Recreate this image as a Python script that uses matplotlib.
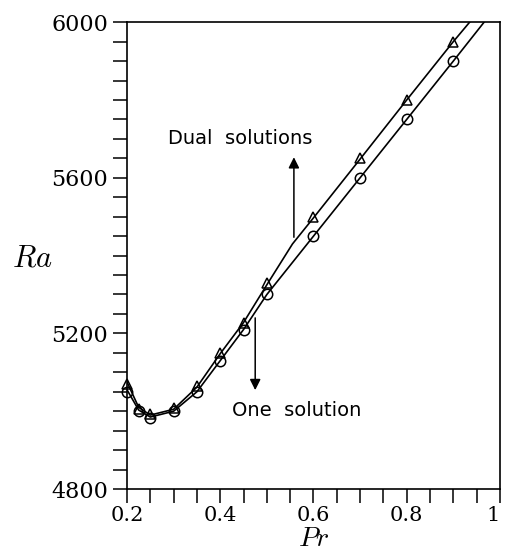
import numpy as np
import matplotlib.pyplot as plt
from matplotlib.ticker import MultipleLocator

plt.rcParams['mathtext.fontset'] = 'cm'

# Pontos calculados
pr_pts = [0.2, 0.225, 0.25, 0.3, 0.35, 0.4, 0.45, 0.5, 0.6, 0.7, 0.8, 0.9]
ra_tri = [5070, 5005, 4992, 5008, 5065, 5150, 5228, 5330, 5500, 5650, 5800, 5950]
ra_circ = [5050, 5000, 4982, 5000, 5050, 5130, 5210, 5300, 5450, 5600, 5750, 5900]

# Curvas (passam pelos pontos e saem pelo topo)
pr_tri_line = [0.2, 0.225, 0.25, 0.3, 0.35, 0.4, 0.45, 0.5, 0.555, 0.6, 0.7, 0.8, 0.9, 0.935]
ra_tri_line = [5075, 5010, 4990, 5005, 5062, 5148, 5228, 5325, 5430, 5497, 5648, 5800, 5950, 6000]
pr_circ_line = [0.2, 0.225, 0.25, 0.3, 0.35, 0.4, 0.45, 0.5, 0.6, 0.7, 0.8, 0.9, 0.966]
ra_circ_line = [5055, 5003, 4985, 5000, 5050, 5130, 5210, 5300, 5450, 5600, 5750, 5900, 6000]

fig = plt.figure(figsize=(5.05, 5.54), dpi=100)
ax = fig.add_axes([0.2515, 0.1173, 0.7385, 0.8427])

ax.plot(pr_tri_line, ra_tri_line, color='black', lw=1.2)
ax.plot(pr_circ_line, ra_circ_line, color='black', lw=1.2)
ax.plot(pr_pts, ra_tri, ls='none', marker='^', ms=7.5, mfc='none', mec='black', mew=1.1, clip_on=False)
ax.plot(pr_pts, ra_circ, ls='none', marker='o', ms=7.5, mfc='none', mec='black', mew=1.1, clip_on=False)

# Setas e textos
ax.annotate('', xy=(0.558, 5660), xytext=(0.558, 5440),
            arrowprops=dict(arrowstyle='-|>', color='black', lw=1.1, mutation_scale=16))
ax.text(0.288, 5702, 'Dual  solutions', ha='left', va='center', fontsize=14,
        family='DejaVu Sans', color='black')
ax.annotate('', xy=(0.475, 5047), xytext=(0.475, 5247),
            arrowprops=dict(arrowstyle='-|>', color='black', lw=1.1, mutation_scale=16))
ax.text(0.425, 5003, 'One  solution', ha='left', va='center', fontsize=14,
        family='DejaVu Sans', color='black')

ax.set_xlim(0.2, 1.0)
ax.set_ylim(4800, 6000)
ax.xaxis.set_major_locator(MultipleLocator(0.2))
ax.xaxis.set_minor_locator(MultipleLocator(0.05))
ax.yaxis.set_major_locator(MultipleLocator(400))
ax.yaxis.set_minor_locator(MultipleLocator(50))
ax.set_xticks([0.2, 0.4, 0.6, 0.8, 1.0])
ax.set_xticklabels(['0.2', '0.4', '0.6', '0.8', '1'])
ax.tick_params(which='both', direction='out', length=10, width=1.1, top=False, right=False)
ax.tick_params(labelsize=16)
ax.tick_params(axis='x', labelsize=15, pad=2)
for lbl in ax.get_xticklabels() + ax.get_yticklabels():
    lbl.set_family('DejaVu Serif')
ax.get_xticklabels()[-1].set_ha('right')
for s in ax.spines.values():
    s.set_linewidth(1.2)

ax.set_xlabel(r'$Pr$', fontsize=20, labelpad=0)
ax.xaxis.set_label_coords(0.5, -0.075)
ax.set_ylabel(r'$Ra$', fontsize=22, rotation=0, va='center', ha='center')
ax.yaxis.set_label_coords(-0.255, 0.495)

fig.savefig('out.png', dpi=100)
